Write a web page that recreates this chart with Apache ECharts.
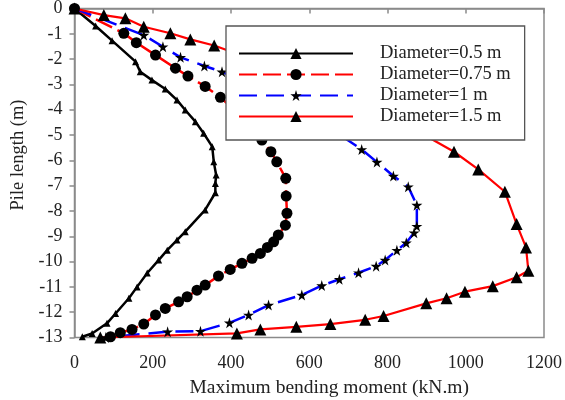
<!DOCTYPE html>
<html>
<head>
<meta charset="utf-8">
<script src="https://cdn.jsdelivr.net/npm/echarts@6/dist/echarts.min.js"></script>
<style>
  html, body { margin: 0; padding: 0; background: #fff; }
  #chart { width: 565px; height: 400px; }
</style>
</head>
<body>
<div id="chart"></div>
<script>
// Maximum bending moment (kN.m) along the pile depth (m) for four pile diameters
const seriesNames = ['Diameter=0.5 m', 'Diameter=0.75 m', 'Diameter=1 m', 'Diameter=1.5 m'];

const depthD050 = [0, -0.69, -1.27, -2.10, -2.50, -2.83, -3.18, -3.62, -4.01, -4.47, -4.93, -5.46, -6.06, -6.58, -6.91, -7.28, -7.96, -8.82, -9.15, -9.55, -9.94, -10.45, -11.0, -11.45, -12.05, -12.44, -12.84, -12.97];
const momentD050 = [0, 54, 96, 156, 168, 198, 232, 262, 283, 309, 330, 352, 356, 362, 360, 360, 334, 283, 262, 237, 215, 186, 160, 139, 105, 83, 45, 20];

const depthD075 = [0, -0.98, -1.35, -1.84, -2.36, -2.67, -3.08, -3.51, -4.30, -5.20, -5.66, -6.06, -6.71, -7.41, -8.09, -8.56, -8.95, -9.22, -9.44, -9.68, -9.87, -10.07, -10.31, -10.57, -10.93, -11.13, -11.39, -11.59, -11.85, -12.11, -12.47, -12.68, -12.81, -12.97];
const momentD075 = [0, 126, 158, 207, 258, 290, 334, 373, 430, 479, 502, 517, 540, 541, 543, 539, 521, 509, 493, 475, 454, 428, 398, 368, 334, 313, 288, 266, 232, 207, 177, 147, 117, 92];

const depthD100 = [0, -1.05, -1.51, -1.93, -2.27, -2.50, -3.40, -4.50, -5.57, -6.07, -6.62, -7.04, -7.77, -8.60, -8.86, -9.26, -9.55, -9.94, -10.18, -10.44, -10.70, -10.95, -11.32, -11.72, -12.11, -12.42, -12.75, -12.77, -13.0];
const momentD100 = [0, 177, 226, 271, 332, 377, 500, 630, 734, 773, 815, 853, 875, 875, 868, 848, 824, 794, 771, 726, 677, 632, 581, 496, 445, 396, 322, 238, 80];

const depthD150 = [0, -0.26, -0.39, -0.72, -0.98, -1.22, -1.46, -2.60, -4.00, -5.66, -6.36, -7.24, -8.52, -9.44, -10.36, -10.62, -10.97, -11.19, -11.45, -11.65, -12.15, -12.30, -12.47, -12.58, -12.68, -12.84, -13.0];
const momentD150 = [0, 75, 130, 177, 245, 296, 357, 560, 780, 970, 1032, 1100, 1130, 1154, 1160, 1130, 1069, 998, 951, 899, 790, 743, 654, 567, 475, 415, 66];

const xTicks = { min: 0, max: 1200, interval: 200 };
const yTicks = { min: -13, max: 0, interval: 1 };

const STAR = 'path://M50,0 L61,35 L98,35 L68,57 L79,91 L50,70 L21,91 L32,57 L2,35 L39,35 Z';
const FONT = 'Liberation Serif';
const AXIS_GREY = '#8a8a8a';
const TEXT = '#222';

function pairs(moment, depth) {
  return moment.map((m, i) => [m, depth[i]]);
}

const chart = echarts.init(document.getElementById('chart'), null, { renderer: 'canvas' });

chart.setOption({
  animation: false,
  backgroundColor: '#fff',
  textStyle: { fontFamily: FONT, color: TEXT },
  grid: {
    left: 74.5, right: 21, top: 8.5, bottom: 62.5,
    containLabel: false, outerBoundsMode: 'none',
    show: true, borderColor: AXIS_GREY, borderWidth: 1.5, backgroundColor: 'transparent'
  },
  xAxis: {
    type: 'value',
    min: xTicks.min, max: xTicks.max, interval: xTicks.interval,
    name: 'Maximum bending moment (kN.m)',
    nameLocation: 'middle', nameGap: 39,
    nameTextStyle: { fontFamily: FONT, fontSize: 19.5, color: TEXT, padding: [0, 0, 0, 40] },
    axisLine: { show: true, lineStyle: { color: AXIS_GREY, width: 1.5 } },
    axisTick: { show: true, inside: false, length: 5, lineStyle: { color: AXIS_GREY, width: 1.5 } },
    axisLabel: { fontFamily: FONT, fontSize: 18, color: TEXT, margin: 17, formatter: v => String(v) },
    splitLine: { show: false }
  },
  yAxis: {
    type: 'value',
    min: yTicks.min, max: yTicks.max, interval: yTicks.interval,
    name: 'Pile length (m)',
    nameLocation: 'middle', nameGap: 38,
    nameTextStyle: { fontFamily: FONT, fontSize: 18.5, color: TEXT, padding: [0, 0, 0, 36] },
    axisLine: { show: true, lineStyle: { color: AXIS_GREY, width: 1.5 } },
    axisTick: { show: true, inside: false, length: 5, lineStyle: { color: AXIS_GREY, width: 1.5 } },
    axisLabel: { fontFamily: FONT, fontSize: 18, color: TEXT, margin: 12, formatter: v => String(v) },
    splitLine: { show: false }
  },
  legend: {
    orient: 'vertical',
    left: 226, top: 26,
    padding: [18, 14, 14, 12],
    itemWidth: 114, itemHeight: 14, itemGap: 2,
    backgroundColor: '#fff',
    borderColor: '#555', borderWidth: 1.3,
    textStyle: { fontFamily: FONT, fontSize: 18.5, color: TEXT, padding: [0, 0, 0, 22] },
    data: seriesNames
  },
  series: [
    {
      name: seriesNames[0], type: 'line',
      data: pairs(momentD050, depthD050),
      symbol: 'triangle', symbolSize: 7,
      itemStyle: { color: '#000' },
      lineStyle: { color: '#000', width: 2.5 }
    },
    {
      name: seriesNames[1], type: 'line',
      data: pairs(momentD075, depthD075),
      symbol: 'circle', symbolSize: 11,
      itemStyle: { color: '#000' },
      lineStyle: { color: '#ff0000', width: 2.5, type: [18, 6] }
    },
    {
      name: seriesNames[2], type: 'line',
      data: pairs(momentD100, depthD100),
      symbol: STAR, symbolSize: 11,
      itemStyle: { color: '#000' },
      lineStyle: { color: '#0000ff', width: 2.5, type: [18, 9] }
    },
    {
      name: seriesNames[3], type: 'line',
      data: pairs(momentD150, depthD150),
      symbol: 'triangle', symbolSize: 12,
      itemStyle: { color: '#000' },
      lineStyle: { color: '#ff0000', width: 2.2 }
    }
  ]
});
</script>
</body>
</html>
